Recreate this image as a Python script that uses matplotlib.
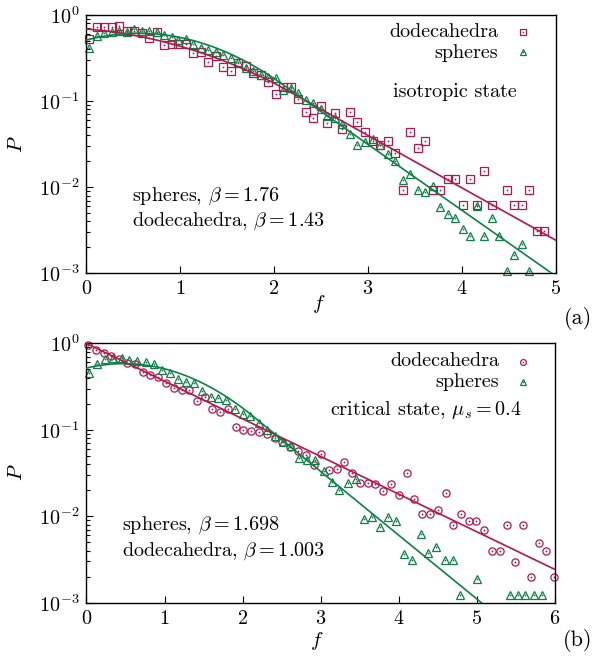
import numpy as np
import matplotlib
matplotlib.use("Agg")
import matplotlib.pyplot as plt
from matplotlib.ticker import LogLocator, NullFormatter, MultipleLocator

# ----------------------------------------------------------
# DATA
# ----------------------------------------------------------

# (a) isotropic state, bin centres shared by both series
F_ISO = [0.03, 0.11, 0.19, 0.27, 0.35, 0.43, 0.51, 0.59, 0.67, 0.75,
         0.83, 0.91, 0.98, 1.06, 1.14, 1.22, 1.30, 1.38, 1.46, 1.54,
         1.62, 1.70, 1.78, 1.86, 1.94, 2.02, 2.10, 2.18, 2.26, 2.34,
         2.42, 2.50, 2.57, 2.65, 2.73, 2.81, 2.89, 2.97, 3.05, 3.13,
         3.21, 3.29, 3.37, 3.45, 3.53, 3.61, 3.69, 3.77, 3.85, 3.93,
         4.01, 4.09, 4.16, 4.24, 4.32, 4.40, 4.48, 4.56, 4.64, 4.72,
         4.80, 4.88]

P_ISO_DODECA = [0.526, 0.720, 0.720, 0.732, 0.745, 0.652, 0.652, 0.613, 0.545, 0.635,
                0.445, 0.457, 0.457, 0.457, 0.359, 0.369, 0.282, 0.337, 0.251, 0.222,
                0.279, 0.256, 0.214, 0.1995, 0.168, 0.122, 0.145, 0.147, 0.1066, 0.0753,
                0.0628, 0.0877, 0.0561, 0.0721, 0.0470, 0.0753, 0.0567, 0.0438, 0.0344, 0.0307,
                0.0344, 0.0252, 0.00936, 0.0438, 0.0283, 0.0344, 0.00936, 0.00936, 0.01248, 0.01248,
                0.00624, 0.01248, 0.00624, 0.0156, 0.00624, np.nan, 0.00936, 0.00624, 0.00624, 0.00936,
                0.00312, 0.00312]

P_ISO_SPHERES = [0.417, 0.570, 0.613, 0.635, 0.657, 0.630, 0.682, 0.657, 0.647, 0.635,
                 0.586, 0.560, 0.517, 0.522, 0.457, 0.410, 0.392, 0.375, 0.343, 0.319,
                 0.2846, 0.2404, 0.2237, 0.1994, 0.189, 0.1855, 0.1346, 0.1432, 0.1232, 0.1030,
                 0.0963, 0.0814, 0.0666, 0.0628, 0.0542, 0.0411, 0.0307, 0.0338, 0.0360, 0.0309,
                 0.0243, 0.0201, 0.0120, 0.0141, 0.00928, 0.00873, 0.01033, 0.00594, 0.00489, 0.00435,
                 0.00327, 0.00269, 0.00600, 0.00269, 0.00439, 0.00269, 0.00107, 0.00163, 0.00217, 0.00107]

# (b) critical state
F_CRIT_DODECA = [0.02, 0.12, 0.22, 0.32, 0.42, 0.52, 0.62, 0.72, 0.82, 0.92,
                 1.02, 1.12, 1.22, 1.32, 1.42, 1.52, 1.61, 1.71, 1.81, 1.91,
                 2.01, 2.11, 2.21, 2.31, 2.41, 2.51, 2.61, 2.71, 2.81, 2.91,
                 3.01, 3.11, 3.21, 3.30, 3.40, 3.50, 3.60, 3.70, 3.80, 3.90,
                 4.00, 4.10, 4.20, 4.30, 4.40, 4.50, 4.60, 4.70, 4.80, 4.90,
                 4.99, 5.09, 5.19, 5.29, 5.39, 5.49, 5.59, 5.69, 5.79, 5.89,
                 5.99]

P_CRIT_DODECA = [0.956, 0.837, 0.778, 0.713, 0.653, 0.587, 0.571, 0.469, 0.430, 0.404,
                 0.344, 0.301, 0.288, 0.288, 0.217, 0.241, 0.172, 0.1615, 0.172, 0.1083,
                 0.0992, 0.0974, 0.0948, 0.0892, 0.0795, 0.0726, 0.0636, 0.0571, 0.0516, 0.0395,
                 0.0526, 0.0342, 0.0348, 0.0429, 0.0320, 0.0244, 0.0244, 0.0233, 0.0195, 0.0235,
                 0.0174, 0.0313, 0.01565, 0.01066, 0.01066, 0.01177, 0.01866, 0.00782, 0.01066, 0.00885,
                 0.00885, 0.00685, 0.00391, 0.00391, 0.00782, 0.00294, 0.00782, 0.00196, 0.00488, 0.00391,
                 0.00196]

F_CRIT_SPHERES = [0.03, 0.14, 0.24, 0.34, 0.45, 0.55, 0.65, 0.76, 0.86, 0.97,
                  1.07, 1.17, 1.28, 1.38, 1.48, 1.59, 1.69, 1.79, 1.90, 2.00,
                  2.10, 2.21, 2.31, 2.41, 2.52, 2.62, 2.72, 2.83, 2.93, 3.04,
                  3.14, 3.24, 3.35, 3.45, 3.55, 3.66, 3.76, 3.86, 3.97, 4.07,
                  4.17, 4.28, 4.38, 4.48, 4.59, 4.69, 4.79, 5.00, 5.42, 5.52,
                  5.62, 5.73, 5.83]

P_CRIT_SPHERES = [0.450, 0.571, 0.653, 0.671, 0.671, 0.641, 0.629, 0.600, 0.573, 0.491,
                  0.459, 0.384, 0.355, 0.352, 0.283, 0.242, 0.2315, 0.2195, 0.1737, 0.1540,
                  0.1441, 0.1186, 0.1005, 0.0857, 0.0726, 0.0643, 0.0467, 0.0451, 0.0446, 0.0334,
                  0.0249, 0.0203, 0.0244, 0.0267, 0.00933, 0.00984, 0.00742, 0.00984, 0.00871, 0.00367,
                  0.00313, 0.00621, 0.00371, 0.00435, 0.00313, 0.00313, 0.00124, 0.00186, 0.00124, 0.00124,
                  0.00124, 0.00124, 0.00124]

# fitted curves: ln P = p0 + p1 f + p2 f^2 below f_switch, ln A - rate * f above
FIT_ISO_DODECA = dict(head=(-0.375, -0.197, -0.2625), ln_amp=0.981, rate=1.40, f_switch=2.0)
FIT_ISO_SPHERES = dict(head=(-0.670, 0.6515, -0.5823), ln_amp=1.823, rate=1.76, f_switch=2.15)
FIT_CRIT_DODECA = dict(head=None, ln_amp=-0.005, rate=1.003, f_switch=0.0)
FIT_CRIT_SPHERES = dict(head=(-0.659, 0.4925, -0.5125), ln_amp=1.68, rate=1.698, f_switch=2.2)

RED = "#b3164c"
GREEN = "#0e7f47"

W, H = 592, 662
FS = 14.5

plt.rcParams.update({
    "font.family": "serif",
    "font.serif": ["cmr10"],
    "mathtext.fontset": "cm",
    "axes.formatter.use_mathtext": True,
    "axes.unicode_minus": False,
    "font.size": FS,
})


def fit_curve(f, head, ln_amp, rate, f_switch):
    f = np.asarray(f, dtype=float)
    tail = ln_amp - rate * f
    if head is None:
        return np.exp(tail)
    p0, p1, p2 = head
    return np.exp(np.where(f < f_switch, p0 + p1 * f + p2 * f ** 2, tail))


def box(l, t, r, b):
    return [l / W, 1 - b / H, (r - l) / W, (b - t) / H]


def fig_text(x, y, s, **kw):
    fig.text(x / W, 1 - y / H, s, **kw)


def scatter(ax, f, p, marker, color, ms):
    ax.plot(f, p, ls="none", marker=marker, ms=ms, mfc="none", mec=color,
            mew=0.9, clip_on=False, zorder=2)
    ax.plot(f, p, ls="none", marker="o", ms=1.3, mfc=color, mec=color,
            mew=0, clip_on=False, zorder=2)


def legend_marker(marker, color, x, y):
    fig.add_artist(plt.Line2D([x / W], [1 - y / H], ls="none", marker=marker, ms=4.2,
                              mfc="none", mec=color, mew=0.9, transform=fig.transFigure))
    fig.add_artist(plt.Line2D([x / W], [1 - y / H], ls="none", marker="o", ms=1.1,
                              mfc=color, mec=color, mew=0, transform=fig.transFigure))


def style_axes(ax, xmax):
    ax.set_xlim(0, xmax)
    ax.set_yscale("log")
    ax.set_ylim(1e-3, 1)
    ax.xaxis.set_major_locator(MultipleLocator(1))
    ax.yaxis.set_major_locator(LogLocator(base=10, numticks=10))
    ax.yaxis.set_minor_locator(LogLocator(base=10, subs=np.arange(2, 10), numticks=10))
    ax.yaxis.set_minor_formatter(NullFormatter())
    ax.tick_params(which="both", direction="in", top=False, right=False, width=0.8,
                   labelsize=FS, pad=5)
    ax.tick_params(which="major", length=5)
    ax.tick_params(which="minor", length=3)
    for sp in ax.spines.values():
        sp.set_linewidth(1.0)


fig = plt.figure(figsize=(W / 100, H / 100), dpi=100)
ax_a = fig.add_axes(box(86.3, 15, 555.5, 273.3))
ax_b = fig.add_axes(box(86.4, 343.3, 555, 602.7))

# ---- (a) isotropic state ----
f_line = np.linspace(0, 5, 500)
style_axes(ax_a, 5)
scatter(ax_a, F_ISO, P_ISO_DODECA, "s", RED, 5.2)
scatter(ax_a, F_ISO[:len(P_ISO_SPHERES)], P_ISO_SPHERES, "^", GREEN, 5.2)
ax_a.plot(f_line, fit_curve(f_line, **FIT_ISO_DODECA), color=RED, lw=1.2, zorder=3)
ax_a.plot(f_line, fit_curve(f_line, **FIT_ISO_SPHERES), color=GREEN, lw=1.2, zorder=3)

# ---- (b) critical state ----
f_line = np.linspace(0, 6, 600)
style_axes(ax_b, 6)
scatter(ax_b, F_CRIT_DODECA, P_CRIT_DODECA, "o", RED, 5.2)
scatter(ax_b, F_CRIT_SPHERES, P_CRIT_SPHERES, "^", GREEN, 5.2)
ax_b.plot(f_line, fit_curve(f_line, **FIT_CRIT_DODECA), color=RED, lw=1.2, zorder=3)
ax_b.plot(f_line, fit_curve(f_line, **FIT_CRIT_SPHERES), color=GREEN, lw=1.2, zorder=3)

# ---- labels and annotations ----
fig_text(319, 304, "$f$", ha="center", va="center", fontsize=15)
fig_text(317, 641, "$f$", ha="center", va="center", fontsize=15)
for top in (0, 328):
    fig_text(17, 144 + top, "$P$", ha="center", va="center", rotation=90, fontsize=15)

fig_text(578, 318, "(a)", ha="center", va="center", fontsize=16)
fig_text(578, 640, "(b)", ha="center", va="center", fontsize=16)

fig_text(498, 37, "dodecahedra", ha="right", va="baseline")
fig_text(498, 57.5, "spheres", ha="right", va="baseline")
legend_marker("s", RED, 522.7, 32)
legend_marker("^", GREEN, 522.7, 52)
fig_text(455, 97, "isotropic state", ha="center", va="baseline")
fig_text(132, 200.5, r"spheres, $\beta = 1.76$", ha="left", va="baseline")
fig_text(132, 226, r"dodecahedra, $\beta = 1.43$", ha="left", va="baseline")

fig_text(499, 366.5, "dodecahedra", ha="right", va="baseline")
fig_text(499, 387, "spheres", ha="right", va="baseline")
legend_marker("o", RED, 522.7, 361.7)
legend_marker("^", GREEN, 522.7, 381.7)
fig_text(521.7, 415, r"critical state, $\mu_s = 0.4$", ha="right", va="baseline")
fig_text(122, 530, r"spheres, $\beta = 1.698$", ha="left", va="baseline")
fig_text(122, 556, r"dodecahedra, $\beta = 1.003$", ha="left", va="baseline")

fig.savefig("out.png", dpi=100)
